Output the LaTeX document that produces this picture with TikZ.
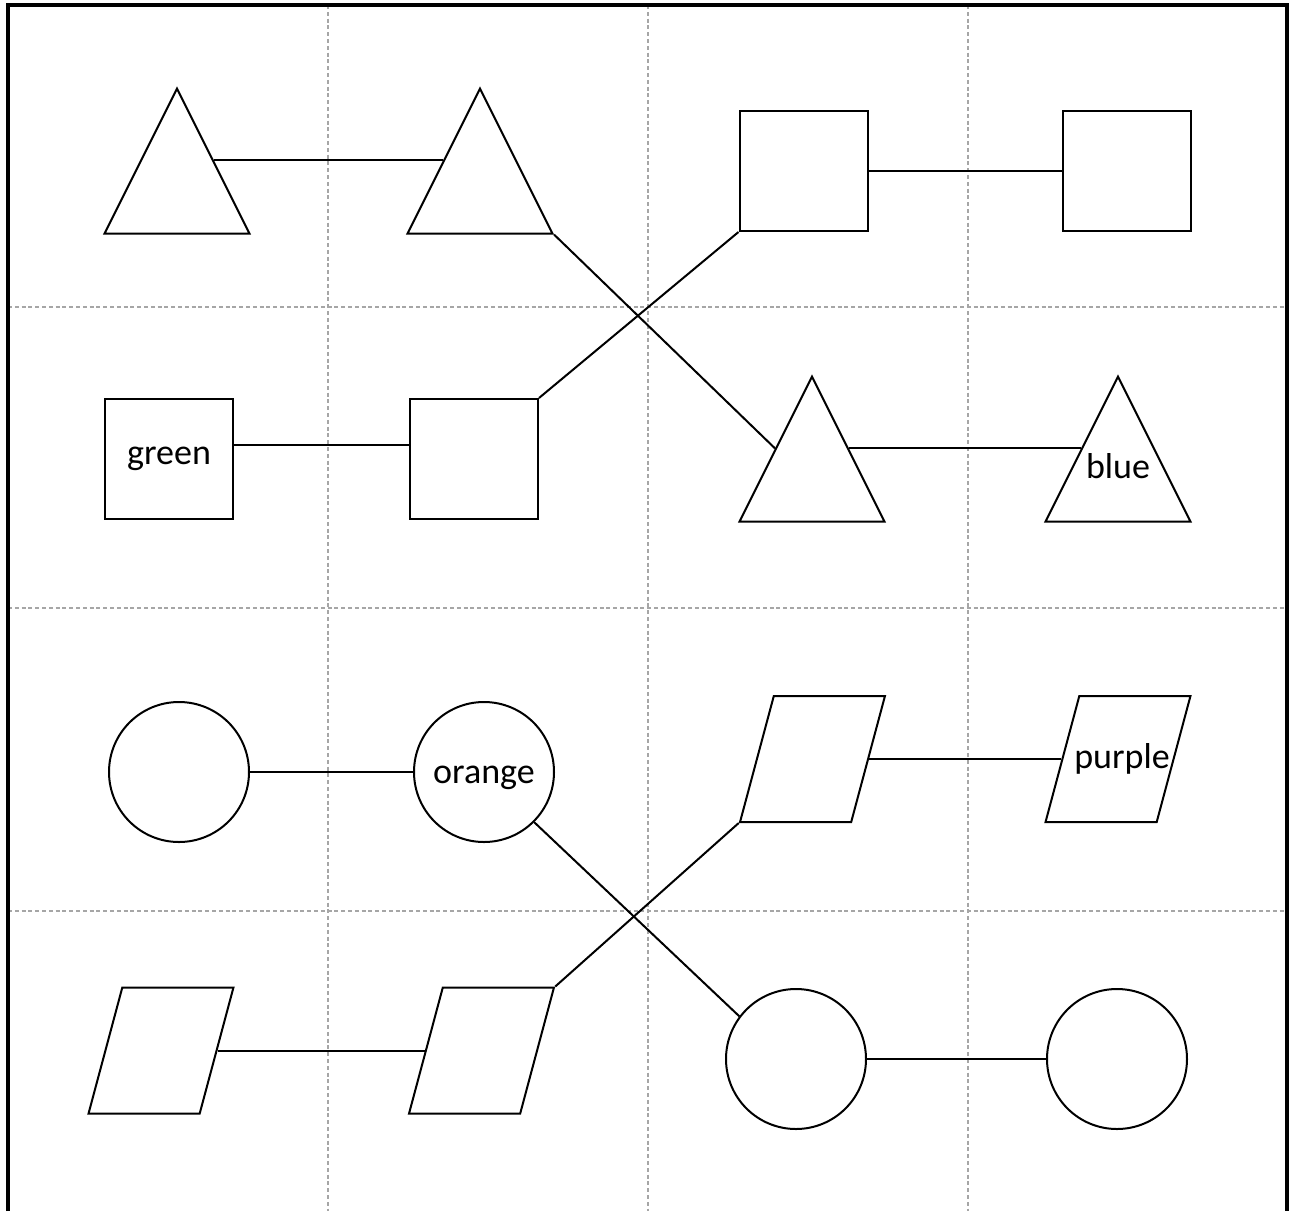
\documentclass[tikz,border=0pt]{standalone}
\usepackage{fontspec}
\setmainfont{Carlito}
\usetikzlibrary{shapes.geometric,calc}

\begin{document}
\begin{tikzpicture}[x=0.5pt,y=-0.5pt,
        line width=1pt,
        every node/.style={font=\fontsize{18}{21}\selectfont, inner sep=0pt},
        tri/.style={draw, isosceles triangle, shape border rotate=90,
                isosceles triangle stretches, minimum width=72.5pt, minimum height=72.5pt},
        sq/.style={draw, rectangle, minimum width=64pt, minimum height=60pt},
        ring/.style={draw, circle, minimum size=70pt},
        para/.style={draw, trapezium, trapezium left angle=75, trapezium right angle=105,
                text width=38.7pt, text height=36pt, text depth=27pt, align=center},
        grid/.style={gray!70, line width=0.7pt, dash pattern=on 2pt off 1.4pt}]
        \useasboundingbox (0,0) rectangle (1291,1211);

        % raster
        \foreach \x in {328,648,968} \draw[grid] (\x,5) -- (\x,1211);
        \foreach \y in {307,608,911} \draw[grid] (8,\y) -- (1287,\y);

        % ramecek
        \draw[line width=1.75pt] (8,1211) -- (8,5) -- (1287,5) -- (1287,1211);

        % prvni radek
        \node[tri, anchor=apex] (t1) at (177,86) {};
        \node[tri, anchor=apex] (t2) at (480,86) {};
        \node[sq] (s3) at (803.5,171) {};
        \node[sq] (s4) at (1126.5,171) {};

        % druhy radek
        \node[sq] (green) at (169,459) {green};
        \node[sq] (s2) at (474,459) {};
        \node[tri, anchor=apex] (t3) at (812,374) {};
        \node[tri, anchor=apex] (blue) at (1118,374) {\raisebox{9pt}[0pt][0pt]{blue}};

        % treti radek
        \node[ring] (c1) at (179,772) {};
        \node[ring, text height=11pt, text depth=0pt] (orange) at (484,772) {orange};
        \node[para] (p3) at (812.5,759) {};
        \node[para] (purple) at (1118,759) {\makebox[0pt]{\hspace{4pt}purple}};

        % ctvrty radek
        \node[para] (p1) at (161,1050.5) {};
        \node[para] (p2) at (481.5,1050.5) {};
        \node[ring] (c3) at (796,1059) {};
        \node[ring] (c4) at (1117,1059) {};

        % spojnice
        \draw ($(t1.apex)!0.5!(t1.right corner)$) -- ($(t2.apex)!0.5!(t2.left corner)$);
        \draw (s3.east) -- (s4.west);
        \draw (t2.right corner) -- ($(t3.apex)!0.5!(t3.left corner)$);
        \draw (s3.south west) -- (s2.north east);
        \draw (green.12) -- (s2.168);
        \draw ($(t3.apex)!0.5!(t3.right corner)$) -- ($(blue.apex)!0.5!(blue.left corner)$);
        \draw (c1.east) -- (orange.west);
        \draw (p3.east) -- (purple.west);
        \draw (orange.-45) -- (c3.143);
        \draw (p3.bottom left corner) -- (p2.top right corner);
        \draw (p1.east) -- (p2.west);
        \draw (c3.east) -- (c4.west);
    \end{tikzpicture}
\end{document}
